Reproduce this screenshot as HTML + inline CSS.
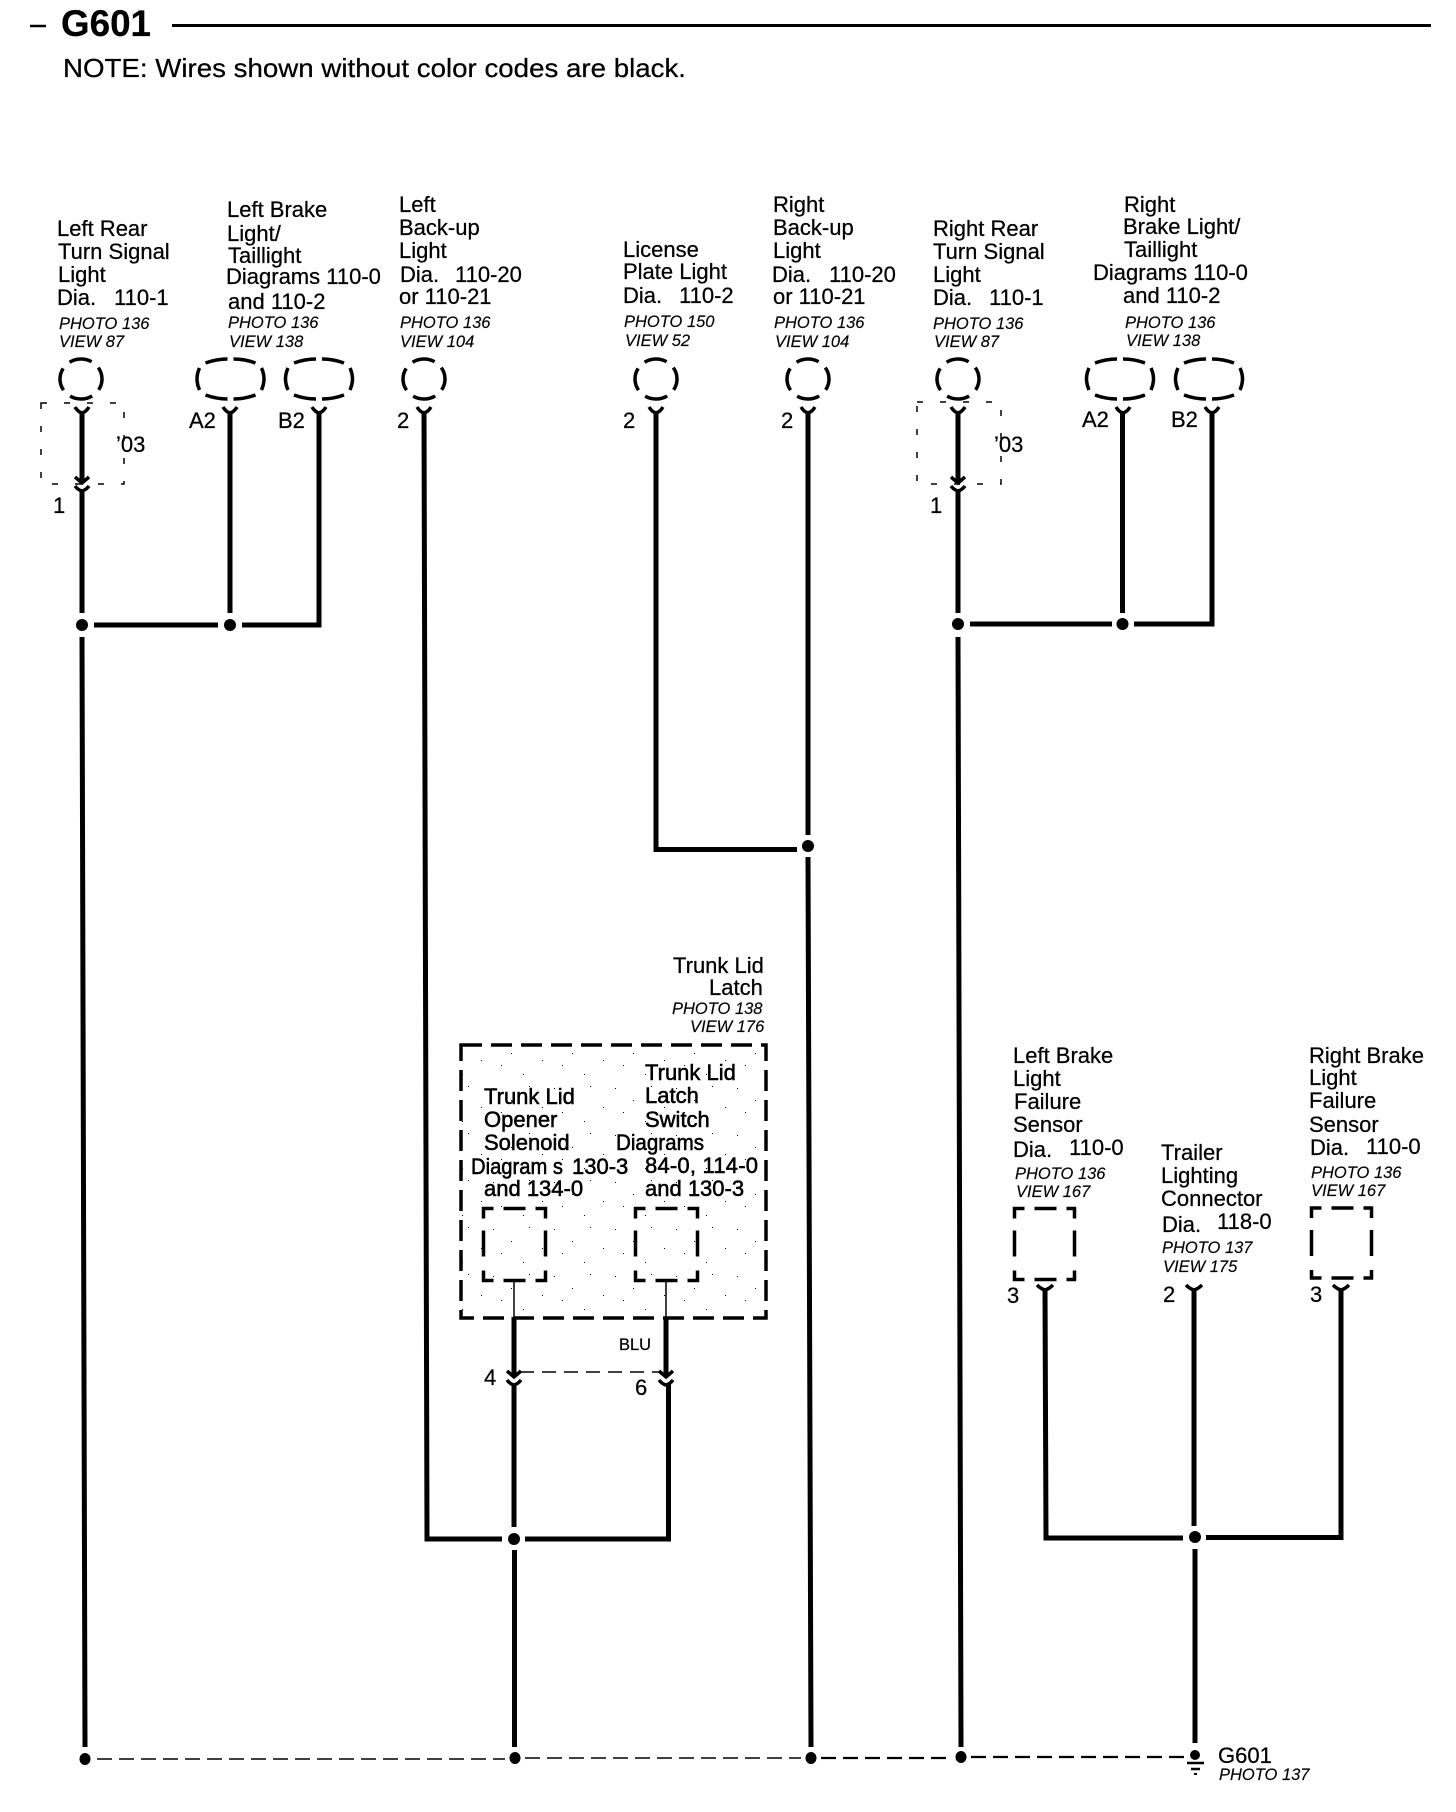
<!DOCTYPE html>
<html lang="en"><head><meta charset="utf-8"><title>G601</title>
<style>
html,body{margin:0;padding:0;background:#fff}
svg{display:block}
text{font-family:"Liberation Sans",Arial,sans-serif;fill:#000;font-size:22px;stroke:#000;stroke-width:.25px}
.i{font-style:italic;font-size:16.5px;stroke-width:.15px}
.b{stroke-width:.55px}
.w{fill:none;stroke:#000;stroke-width:5}
.c{fill:none;stroke:#000;stroke-width:3.5}
.d{fill:#000}
.e{fill:none;stroke:#000;stroke-width:3.5;stroke-dasharray:18 7;stroke-dashoffset:9}
.t{fill:none;stroke:#000;stroke-width:1.5;stroke-dasharray:6 17}
.k{fill:none;stroke:#000;stroke-width:3.5}
</style></head><body>
<svg width="1456" height="1812" viewBox="0 0 1456 1812" xmlns="http://www.w3.org/2000/svg">
<defs>
<pattern id="sp" width="61" height="47" patternUnits="userSpaceOnUse">
<rect x="5" y="7" width="1" height="1"/><rect x="23" y="19" width="1" height="1"/><rect x="41" y="5" width="1" height="1"/><rect x="13" y="31" width="1" height="1"/><rect x="35" y="40" width="1" height="1"/><rect x="54" y="26" width="1" height="1"/>
</pattern>
</defs>
<rect width="1456" height="1812" fill="#fff"/>

<!-- header -->
<path d="M30 26H46" stroke="#000" stroke-width="2.500" fill="none"/>
<text x="61" y="36" style="font-size:37px;font-weight:bold" textLength="90" lengthAdjust="spacingAndGlyphs">G601</text>
<path d="M172 25.500H1431" stroke="#000" stroke-width="3" fill="none"/>
<text x="63" y="77" style="font-size:26px" textLength="623" lengthAdjust="spacingAndGlyphs">NOTE: Wires shown without color codes are black.</text>

<!-- Left Rear -->
<text x="57" y="236">Left Rear</text><text x="58" y="259">Turn Signal</text><text x="58" y="282">Light</text><text x="57" y="305">Dia.</text><text x="114" y="305">110-1</text>
<text class="i" x="59" y="329">PHOTO 136</text><text class="i" x="59" y="347">VIEW 87</text>
<!-- Left Brake -->
<text x="227" y="217">Left Brake</text><text x="227" y="241">Light/</text><text x="228" y="263">Taillight</text><text x="226" y="284">Diagrams 110-0</text><text x="228" y="309">and 110-2</text>
<text class="i" x="228" y="328">PHOTO 136</text><text class="i" x="229" y="347">VIEW 138</text>
<!-- Left Back-up -->
<text x="399" y="212">Left</text><text x="399" y="235">Back-up</text><text x="399" y="258">Light</text><text x="400" y="282">Dia.</text><text x="455" y="282">110-20</text><text x="399" y="304">or 110-21</text>
<text class="i" x="400" y="328">PHOTO 136</text><text class="i" x="400" y="347">VIEW 104</text>
<!-- License -->
<text x="623" y="257">License</text><text x="623" y="279">Plate Light</text><text x="623" y="303">Dia.</text><text x="679" y="303">110-2</text>
<text class="i" x="624" y="327">PHOTO 150</text><text class="i" x="625" y="346">VIEW 52</text>
<!-- Right Back-up -->
<text x="773" y="212">Right</text><text x="773" y="235">Back-up</text><text x="773" y="258">Light</text><text x="772" y="282">Dia.</text><text x="829" y="282">110-20</text><text x="773" y="304">or 110-21</text>
<text class="i" x="774" y="328">PHOTO 136</text><text class="i" x="775" y="347">VIEW 104</text>
<!-- Right Rear -->
<text x="933" y="236">Right Rear</text><text x="933" y="259">Turn Signal</text><text x="933" y="282">Light</text><text x="933" y="305">Dia.</text><text x="989" y="305">110-1</text>
<text class="i" x="933" y="329">PHOTO 136</text><text class="i" x="934" y="347">VIEW 87</text>
<!-- Right Brake -->
<text x="1124" y="212">Right</text><text x="1123" y="234">Brake Light/</text><text x="1124" y="257">Taillight</text><text x="1093" y="280">Diagrams 110-0</text><text x="1123" y="303">and 110-2</text>
<text class="i" x="1125" y="328">PHOTO 136</text><text class="i" x="1126" y="346">VIEW 138</text>

<!-- top connectors -->
<ellipse class="e" pathLength="100" cx="81" cy="379" rx="21" ry="20"/>
<ellipse class="e" pathLength="100" cx="424" cy="379" rx="21" ry="20"/>
<ellipse class="e" pathLength="100" cx="656" cy="379" rx="21" ry="20"/>
<ellipse class="e" pathLength="100" cx="808" cy="379" rx="21" ry="20"/>
<ellipse class="e" pathLength="100" cx="958" cy="379" rx="21" ry="20"/>
<path class="c" transform="translate(230.5 379)" d="M-25-16Q-14-20-3-20M3-20Q14-20 25-16M-31-11Q-36 0-31 11M31-11Q36 0 31 11M-25 16Q-14 20-3 20M3 20Q14 20 25 16"/>
<path class="c" transform="translate(319 379)" d="M-25-16Q-14-20-3-20M3-20Q14-20 25-16M-31-11Q-36 0-31 11M31-11Q36 0 31 11M-25 16Q-14 20-3 20M3 20Q14 20 25 16"/>
<path class="c" transform="translate(1120 379)" d="M-25-16Q-14-20-3-20M3-20Q14-20 25-16M-31-11Q-36 0-31 11M31-11Q36 0 31 11M-25 16Q-14 20-3 20M3 20Q14 20 25 16"/>
<path class="c" transform="translate(1209 379)" d="M-25-16Q-14-20-3-20M3-20Q14-20 25-16M-31-11Q-36 0-31 11M31-11Q36 0 31 11M-25 16Q-14 20-3 20M3 20Q14 20 25 16"/>

<!-- dashed year boxes -->
<rect class="t" x="41" y="403" width="83" height="81"/>
<rect class="t" x="917" y="402" width="84" height="82"/>
<text x="116" y="452">’03</text><text x="994" y="452">’03</text>

<!-- pin labels -->
<text x="53" y="513">1</text><text x="189" y="428">A2</text><text x="278" y="428">B2</text><text x="397" y="428">2</text><text x="623" y="428">2</text><text x="781" y="428">2</text>
<text x="930" y="513">1</text><text x="1082" y="427">A2</text><text x="1171" y="427">B2</text>

<!-- top forks -->
<path class="k" d="M75 407Q78 412 82 413Q86 412 89 407M223 407Q226 412 230 413Q234 412 237 407M312 407Q315 412 319 413Q323 412 326 407M417 407Q420 412 424 413Q428 412 431 407M649 407Q652 412 656 413Q660 412 663 407M801 407Q804 412 808 413Q812 412 815 407M951 407Q954 412 958 413Q962 412 965 407M1116 407Q1119 412 1123 413Q1127 412 1130 407M1205 407Q1208 412 1212 413Q1216 412 1219 407"/>
<!-- inline connectors -->
<path class="k" d="M75 477L82 483L89 477M75 486Q78 490 82 491Q86 490 89 486M951 477L958 483L965 477M951 486Q954 490 958 491Q962 490 965 486"/>

<!-- wires: left group -->
<path class="w" d="M82 411V481M82 489V613M82 637L85 1747M230 411V613M319 411V627M94 625H218M242 625H321.500"/>
<circle class="d" cx="82" cy="625" r="6"/><circle class="d" cx="230" cy="625" r="6"/>
<!-- wires: left back-up and trunk bus -->
<path class="w" d="M424 411L427 1539H502M525 1539H668.500V1384M514 1317V1376M666 1317V1376M514 1384V1527M514.500 1550V1747"/>
<circle class="d" cx="514" cy="1539" r="6"/>
<!-- license / right back-up -->
<path class="w" d="M656 411V849.500H797M808 411V835M808 857L811 1747"/>
<circle class="d" cx="808" cy="846" r="6"/>
<!-- right rear group -->
<path class="w" d="M958 411V481M958 489V613M958 637L961 1747M1122.500 411V613M1212 411V626.500M970 624H1112M1134 624H1214.500"/>
<circle class="d" cx="958" cy="624" r="6"/><circle class="d" cx="1122.500" cy="624" r="6"/>

<!-- trunk lid latch -->
<text x="673" y="973">Trunk Lid</text><text x="709" y="995">Latch</text>
<text class="i" x="672" y="1014">PHOTO 138</text><text class="i" x="690" y="1032">VIEW 176</text>
<rect x="461" y="1045" width="305" height="273" fill="url(#sp)"/>
<rect x="461" y="1045" width="305" height="273" fill="none" stroke="#000" stroke-width="3.500" stroke-dasharray="21 9"/>
<text class="b" x="484" y="1104">Trunk Lid</text><text class="b" x="484" y="1127">Opener</text><text class="b" x="484" y="1150">Solenoid</text><text class="b" x="471" y="1174" textLength="92" lengthAdjust="spacingAndGlyphs">Diagram s</text><text class="b" x="572" y="1174">130-3</text><text class="b" x="484" y="1196">and 134-0</text>
<text class="b" x="645" y="1080">Trunk Lid</text><text class="b" x="645" y="1103">Latch</text><text class="b" x="645" y="1127">Switch</text><text class="b" x="616" y="1150" textLength="88" lengthAdjust="spacingAndGlyphs">Diagrams</text><text class="b" x="645" y="1173" textLength="113">84-0, 114-0</text><text class="b" x="645" y="1196">and 130-3</text>
<path class="c" transform="translate(483.500 1208.500)" d="M0 10V0H10M20 0H42M52 0H62V10M0 22V48M62 22V48M0 62V72H10M20 72H42M52 72H62V62"/>
<path class="c" transform="translate(635.500 1208.500)" d="M0 10V0H10M20 0H42M52 0H62V10M0 22V48M62 22V48M0 62V72H10M20 72H42M52 72H62V62"/>
<path d="M514 1280V1317M666 1280V1317" stroke="#000" stroke-width="1.500" fill="none"/>
<text x="619" y="1350" style="font-size:16.500px">BLU</text>
<path d="M520 1372H660" fill="none" stroke="#000" stroke-width="1.500" stroke-dasharray="14 8"/>
<path class="k" d="M507 1371L514 1377L521 1371M507 1380Q510 1384 514 1385Q518 1384 521 1380M659 1371L666 1377L673 1371M659 1380Q662 1384 666 1385Q670 1384 673 1380"/>
<text x="484" y="1385">4</text><text x="635" y="1395">6</text>

<!-- right lower block -->
<text x="1013" y="1063">Left Brake</text><text x="1013" y="1086">Light</text><text x="1014" y="1109">Failure</text><text x="1013" y="1132">Sensor</text><text x="1013" y="1157">Dia.</text><text x="1069" y="1155">110-0</text>
<text class="i" x="1015" y="1179">PHOTO 136</text><text class="i" x="1016" y="1197">VIEW 167</text>
<path class="c" transform="translate(1014.500 1208.500)" d="M0 10V0H10M20 0H42M52 0H60V10M0 22V48M60 22V48M0 62V71H10M20 71H42M52 71H60V62"/>
<text x="1161" y="1160">Trailer</text><text x="1161" y="1183">Lighting</text><text x="1161" y="1206">Connector</text><text x="1162" y="1232">Dia.</text><text x="1217" y="1229">118-0</text>
<text class="i" x="1162" y="1253">PHOTO 137</text><text class="i" x="1163" y="1272">VIEW 175</text>
<text x="1309" y="1063">Right Brake</text><text x="1309" y="1085">Light</text><text x="1309" y="1108">Failure</text><text x="1309" y="1132">Sensor</text><text x="1310" y="1155">Dia.</text><text x="1366" y="1154">110-0</text>
<text class="i" x="1311" y="1178">PHOTO 136</text><text class="i" x="1311" y="1196">VIEW 167</text>
<path class="c" transform="translate(1311.500 1208)" d="M0 10V0H10M20 0H42M52 0H60V10M0 22V48M60 22V48M0 62V70H10M20 70H42M52 70H60V62"/>
<text x="1007" y="1303">3</text><text x="1163" y="1302">2</text><text x="1310" y="1302">3</text>
<path class="k" d="M1037 1285Q1041 1289 1045 1290Q1049 1289 1053 1285M1186 1285Q1190 1289 1194 1290Q1198 1289 1202 1285M1333 1285Q1337 1289 1341 1290Q1345 1289 1349 1285"/>
<path class="w" d="M1045 1288L1046 1538H1183M1206 1537.500H1341L1341 1288M1194 1288V1526M1195 1549V1743"/>
<circle class="d" cx="1195" cy="1537" r="6"/>

<!-- bottom splice line -->
<path d="M97 1759H505M525 1758H801" fill="none" stroke="#000" stroke-width="1.500" stroke-dasharray="15 7"/>
<path d="M821 1758H951M971 1757H1188" fill="none" stroke="#000" stroke-width="2.200" stroke-dasharray="15 7"/>
<ellipse class="d" cx="85" cy="1759" rx="5.500" ry="6"/>
<ellipse class="d" cx="515" cy="1758" rx="5.500" ry="6"/>
<ellipse class="d" cx="811" cy="1758" rx="5.500" ry="6"/>
<ellipse class="d" cx="961" cy="1757" rx="5.500" ry="6"/>
<circle class="d" cx="1195" cy="1755" r="5"/>
<path d="M1187 1763H1204M1191 1769H1200" fill="none" stroke="#000" stroke-width="2.500"/>
<path d="M1194 1774H1197" fill="none" stroke="#000" stroke-width="2"/>
<text x="1218" y="1763">G601</text>
<text class="i" x="1219" y="1780">PHOTO 137</text>
</svg>
</body></html>
